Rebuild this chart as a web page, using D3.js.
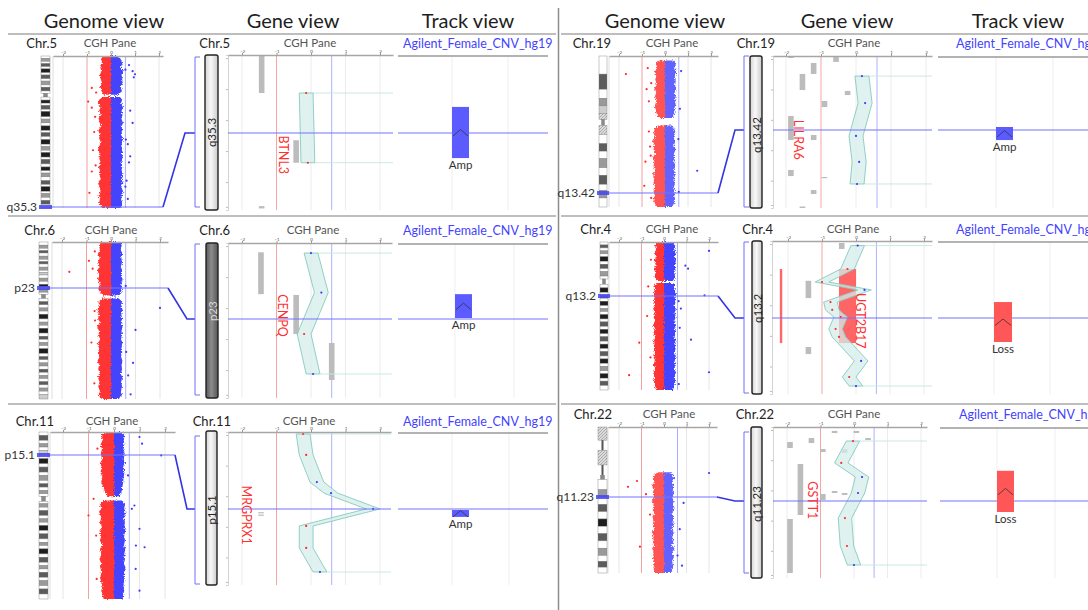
<!DOCTYPE html>
<html>
<head>
<meta charset="utf-8">
<script src="https://cdn.jsdelivr.net/npm/d3@7"></script>
<style>
  body { margin: 0; background: #fff; }
  svg { display: block; font-family: Lato, "Open Sans", sans-serif; }
</style>
</head>
<body>
<svg id="chart" width="1088" height="610"></svg>
<script>
// ---- data ----
const viewTitles = ["Genome view", "Gene view", "Track view"];
const chromosomes = ["Chr.5", "Chr.6", "Chr.11", "Chr.19", "Chr.4", "Chr.22"];
const bandLabels = ["q35.3", "p23", "p15.1", "q13.42", "q13.2", "q11.23"];
const geneNames = ["BTNL3", "CENPQ", "MRGPRX1", "LILRA6", "UGT2B17", "GSTT1"];
const trackName = "Agilent_Female_CNV_hg19";
const callTypes = ["Amp", "Amp", "Amp", "Amp", "Loss", "Loss"];
const cghTicks = [-2, -1, 0, 1, 2];
const lossLine = -1;
const gainLine = 0.6;

// position of the selected band along the chromosome (0 = top, 100 = bottom)
const bandPos = [99.5, 29, 14, 91, 36.5, 48];
// position of the gene inside the gene view (0..100)
const genePos = [50, 49, 50, 49, 50, 49];
// track call extents inside the gene view (0..100)
const trackCalls = [[33.5, 66.5], [33, 48.4], [51, 55.5], [46.7, 55.3], [39.9, 66], [29, 56.3]];

// ideogram bands: [end, stain]  stain 0 gneg .. 4 gpos100, 5 acen, 6 gvar, 7 stalk
const chr5Bands = [[1.5,0],[3.5,2],[5,0],[7,3],[8.5,0],[11,4],[12.5,0],[15,3],[16.5,0],[19,2],[20.5,0],[23,3],[24.5,0],[27,5],[29,0],[31,4],[32.5,0],[35,3],[36.5,0],[40,4],[41.5,0],[44,2],[46,0],[49,4],[50.5,0],[53,3],[55,0],[58,4],[59.5,0],[62,2],[63.5,0],[66.5,4],[68,0],[71,3],[73,0],[75.5,4],[77,0],[79.5,2],[82,0],[84.5,3],[86,0],[89,4],[90.5,0],[93,2],[95,0],[97.5,3],[100,0]];
const chr6Bands = [[2,0],[4,2],[5.5,0],[7,3],[9,0],[11,2],[12.5,0],[14,3],[16,0],[18,2],[19.5,0],[21,1],[23,0],[25,2],[27,0],[28.5,4],[30,0],[32,2],[33.5,0],[36,5],[38,0],[40,3],[42,0],[44,2],[46,0],[49,4],[51,0],[53,2],[55,0],[58,4],[60,0],[62,3],[64,0],[66,2],[68,0],[71,4],[73,0],[75,3],[77,0],[79,2],[81,0],[83,3],[85,0],[87,2],[89,0],[91,3],[93,0],[95,2],[97,0],[100,1]];
const chr11Bands = [[2,0],[5,3],[7,0],[9,2],[11,0],[13,1],[16,0],[19,4],[21,0],[24,3],[26,0],[29,2],[31,0],[33,3],[35,0],[37,2],[38.5,0],[41.5,5],[43,0],[45,2],[47,0],[50,3],[52,0],[54,2],[56,0],[59,4],[61,0],[64,3],[66,0],[68,2],[70,0],[73,4],[75,0],[78,3],[80,0],[82,2],[84,0],[87,3],[89,0],[92,2],[94,0],[97,3],[100,0]];
const chr19Bands = [[12,0],[22,3],[28,0],[33,2],[38,1],[42,6],[46,5],[52,6],[58,0],[63,3],[68,0],[74,2],[79,0],[85,3],[89,0],[94,2],[100,0]];
const chr4Bands = [[2,0],[4,3],[6,0],[8,2],[10,0],[13,4],[15,0],[18,3],[20,0],[23,2],[25,0],[28.5,5],[31,0],[34,4],[36,0],[38,3],[40,0],[43,4],[45,0],[47,2],[49,0],[52,4],[54,0],[57,3],[59,0],[62,4],[64,0],[67,3],[69,0],[72,4],[74,0],[77,3],[79,0],[82,4],[84,0],[87,2],[89,0],[92,4],[94,0],[97,3],[100,0]];
const chr22Bands = [[9,6],[16,7],[26,6],[33,7],[36,5],[43,0],[48,2],[53,0],[58,3],[63,0],[68,4],[73,0],[78,3],[83,0],[88,2],[92,0],[96,3],[100,0]];

// genome CGH cloud envelope: segments of [pos, low log2 ratio, high log2 ratio]
const chr5Cloud = [
  [[0,-0.3,0.32],[2,-0.42,0.4],[5,-0.38,0.47],[7,-0.45,0.42],[10,-0.4,0.5],[13,-0.48,0.44],[15,-0.43,0.46],[18,-0.37,0.5],[20,-0.46,0.41],[23,-0.4,0.45],[25.5,-0.3,0.32]],
  [[27,-0.35,0.38],[29,-0.5,0.46],[31,-0.55,0.42],[34,-0.44,0.5],[36,-0.5,0.44],[39,-0.42,0.48],[41,-0.52,0.43],[44,-0.46,0.5],[46,-0.4,0.45],[49,-0.53,0.47],[52,-0.45,0.42],[54,-0.5,0.5],[57,-0.42,0.46],[59,-0.48,0.43],[62,-0.55,0.49],[65,-0.44,0.45],[67,-0.5,0.5],[70,-0.43,0.42],[73,-0.52,0.47],[75,-0.46,0.44],[78,-0.5,0.5],[81,-0.42,0.45],[83,-0.54,0.48],[86,-0.47,0.43],[89,-0.44,0.5],[92,-0.52,0.46],[94,-0.46,0.42],[97,-0.5,0.47],[99,-0.42,0.44],[100,-0.35,0.38]]
];
const chr6Cloud = [
  [[0,-0.4,0.36],[2,-0.5,0.44],[5,-0.45,0.4],[8,-0.55,0.47],[10,-0.46,0.42],[13,-0.52,0.45],[16,-0.47,0.4],[18,-0.56,0.46],[21,-0.48,0.42],[24,-0.53,0.47],[27,-0.45,0.41],[30,-0.52,0.45],[32,-0.44,0.4],[34,-0.32,0.3]],
  [[36,-0.36,0.32],[38,-0.52,0.45],[41,-0.46,0.42],[43,-0.56,0.47],[46,-0.48,0.42],[49,-0.53,0.46],[51,-0.45,0.4],[54,-0.56,0.47],[57,-0.48,0.43],[59,-0.52,0.45],[62,-0.44,0.41],[65,-0.55,0.47],[68,-0.48,0.42],[70,-0.53,0.46],[73,-0.46,0.41],[76,-0.56,0.47],[78,-0.48,0.43],[81,-0.52,0.45],[84,-0.45,0.4],[86,-0.54,0.46],[89,-0.47,0.42],[92,-0.52,0.45],[95,-0.45,0.41],[97,-0.5,0.44],[100,-0.38,0.32]]
];
const chr11Cloud = [
  [[0,-0.35,0.3],[2,-0.5,0.42],[5,-0.45,0.38],[8,-0.54,0.41],[10,-0.47,0.36],[13,-0.52,0.42],[16,-0.45,0.38],[19,-0.56,0.43],[21,-0.47,0.36],[24,-0.53,0.41],[27,-0.46,0.38],[30,-0.5,0.36],[33,-0.42,0.33],[36,-0.36,0.3],[38.5,-0.25,0.22]],
  [[41,-0.4,0.32],[43,-0.56,0.43],[46,-0.5,0.4],[48,-0.6,0.45],[51,-0.5,0.39],[54,-0.55,0.43],[57,-0.47,0.4],[59,-0.57,0.45],[62,-0.5,0.4],[65,-0.55,0.43],[68,-0.47,0.39],[70,-0.55,0.45],[73,-0.5,0.4],[76,-0.57,0.43],[79,-0.5,0.39],[81,-0.55,0.45],[84,-0.47,0.4],[87,-0.55,0.43],[90,-0.5,0.39],[92,-0.45,0.37],[95,-0.5,0.4],[98,-0.45,0.36],[100,-0.4,0.33]]
];
const chr19Cloud = [
  [[3,-0.3,0.4],[5,-0.42,0.48],[8,-0.35,0.44],[11,-0.46,0.5],[13,-0.38,0.42],[16,-0.43,0.47],[19,-0.36,0.44],[22,-0.47,0.5],[24,-0.38,0.42],[27,-0.44,0.47],[30,-0.36,0.43],[33,-0.45,0.49],[36,-0.4,0.42],[39,-0.35,0.4],[41,-0.28,0.32]],
  [[46,-0.3,0.3],[48,-0.45,0.4],[51,-0.5,0.45],[54,-0.42,0.38],[56,-0.55,0.44],[59,-0.45,0.4],[62,-0.5,0.46],[65,-0.43,0.38],[67,-0.55,0.43],[70,-0.46,0.4],[73,-0.5,0.45],[76,-0.42,0.38],[78,-0.53,0.44],[81,-0.46,0.4],[84,-0.5,0.45],[87,-0.43,0.38],[89,-0.5,0.43],[92,-0.45,0.4],[95,-0.5,0.44],[98,-0.43,0.38],[100,-0.35,0.3]]
];
const chr4Cloud = [
  [[0,-0.3,0.42],[2,-0.4,0.5],[5,-0.35,0.46],[8,-0.44,0.52],[10,-0.37,0.47],[13,-0.42,0.53],[16,-0.36,0.48],[18,-0.45,0.52],[21,-0.38,0.46],[24,-0.42,0.5],[26.3,-0.3,0.38]],
  [[27.7,-0.3,0.38],[29,-0.44,0.5],[32,-0.4,0.46],[35,-0.48,0.53],[37,-0.41,0.47],[40,-0.46,0.52],[43,-0.39,0.47],[45,-0.48,0.53],[48,-0.42,0.47],[51,-0.46,0.52],[53,-0.4,0.46],[56,-0.48,0.53],[59,-0.41,0.47],[61,-0.46,0.52],[64,-0.39,0.46],[67,-0.48,0.53],[69,-0.42,0.47],[72,-0.46,0.52],[75,-0.4,0.46],[77,-0.48,0.53],[80,-0.41,0.47],[83,-0.46,0.52],[86,-0.39,0.46],[88,-0.48,0.53],[91,-0.42,0.47],[94,-0.46,0.5],[97,-0.4,0.46],[100,-0.35,0.4]]
];
const chr22Cloud = [
  [[31,-0.28,0.3],[33,-0.45,0.4],[35,-0.5,0.46],[38,-0.42,0.35],[40,-0.55,0.44],[43,-0.46,0.38],[45,-0.5,0.46],[48,-0.43,0.36],[51,-0.55,0.44],[53,-0.46,0.38],[56,-0.5,0.47],[59,-0.43,0.34],[62,-0.53,0.42],[64,-0.46,0.36],[67,-0.5,0.45],[70,-0.43,0.35],[72,-0.55,0.46],[75,-0.46,0.37],[78,-0.5,0.44],[81,-0.43,0.35],[83,-0.53,0.46],[86,-0.46,0.38],[89,-0.5,0.44],[92,-0.44,0.36],[95,-0.5,0.42],[97,-0.45,0.38],[100,-0.4,0.33]]
];

// scattered probes outside the dense cloud: [pos, log2 ratio]
const chr5Outliers = [[6,0.75],[10,0.9],[12,1.0],[14,0.95],[9,0.6],[21,-0.8],[30,-0.95],[34,-0.8],[36,0.8],[44,0.9],[50,-0.7],[58,0.7],[62,-0.75],[66,0.8],[70,0.75],[76,-0.8],[82,0.65],[90,-0.9],[94,0.7],[24,-0.62],[40,-0.66],[55,0.62],[72,-0.64],[86,0.6]];
const chr6Outliers = [[19,-1.7],[17,-0.75],[42,2.0],[56,1.0],[77,0.9],[97,0.8],[44,-0.67],[12,-0.9],[64,-0.8],[85,0.7],[6,-0.66],[28,0.6],[50,-0.65],[70,0.62],[90,-0.68]];
const chr11Outliers = [[3,1.0],[7,1.1],[14,1.85],[40,-0.8],[50,-1.0],[58,1.0],[68,0.86],[69,1.2],[95,1.0],[82,0.85],[44,0.8],[46,0.7],[10,-0.65],[26,0.55],[62,-0.7],[88,-0.68]];
const chr19Outliers = [[12,-1.7],[8,-0.75],[22,-0.8],[30,-0.7],[50,-0.7],[60,-0.65],[70,-0.85],[86,-0.9],[76,1.4],[10,0.7],[35,0.65],[90,0.6],[18,-0.6],[55,0.58],[66,-0.62],[94,-0.6]];
const chr4Outliers = [[18,1.07],[16,0.95],[6,2.0],[36,1.8],[50,-0.75],[68,-1.1],[90,-1.55],[88,2.0],[66,1.2],[45,0.75],[58,0.7],[30,-0.7],[12,-0.58],[40,0.65],[78,-0.6],[96,0.66]];
const chr22Outliers = [[41,-1.6],[37,-1.2],[82,-1.07],[31.5,2.0],[52,0.87],[95,0.8],[46,-0.8],[70,0.7],[60,-0.62],[88,0.6]];

// gene view grey features: [log2 x, start pos, end pos]
const btnl3Bars = [[-1.43,0.6,24.5],[-0.43,55,69.5],[-1.43,97.5,99]];
const cenpqBars = [[-1.45,6,33],[-0.43,33.5,58.7],[0.6,64.5,88.4]];
const mrgprx1Bars = [[-1.45,52.4,53.1],[-1.45,54,54.7]];
const lilra6Bars = [[-1.86,0,1.3],[-1.21,4.6,11.8],[-1.53,11.8,22.4],[-0.57,0.7,3.9],[-0.24,23,25.7],[-0.9,29.6,33.6],[-1.86,39.5,55.3],[-1.21,52,55.3],[-1.86,75,79],[-0.9,79.6,80.3],[-1.21,88.2,90.8],[-1.53,99,100]];
const ugt2b17Bars = [[-0.42,1.3,5.2],[-1.4,26,37.3],[-1.4,69.3,73.9],[-0.42,46.4,54.9]];
const gstt1Bars = [[-0.58,2.6,4],[0.07,2.6,4],[0.42,7.3,8.6],[-1.91,9.9,13.9],[-1.27,7.3,10.6],[-0.93,14.6,16.6],[-0.28,14.6,17.2],[-1.6,24.5,58.3],[-0.58,42.4,43.7],[-0.28,43.7,45],[-0.93,44.4,48.3],[-1.91,60.9,96.7]];

// gene view segment profile: [pos, log2 ratio]
const btnl3Profile = [[24.5,-0.14],[69.5,-0.09]];
const cenpqProfile = [[6.5,0.0],[32,0.3],[58.7,-0.2],[84.5,0.06]];
const mrgprx1Profile = [[1.3,-0.23],[15,-0.14],[32.7,0.17],[40,0.58],[50.3,1.8],[61.4,-0.14],[75.8,-0.14],[91.5,0.26]];
const lilra6Profile = [[13.2,0.17],[31,0.26],[52.6,0.0],[69.7,0.09],[84.2,0.03]];
const ugt2b17Profile = [[3,0.05],[18.3,-0.25],[26.8,-1.0],[32,0.25],[39.9,-0.75],[45,-0.7],[49.7,-0.45],[57.5,-0.6],[62.7,-0.5],[78.4,0.15],[88.9,-0.2],[94.8,0.0]];
const gstt1Profile = [[9.3,-0.03],[23.8,-0.38],[33.1,0.24],[43.7,0.12],[60.3,-0.27],[78.8,-0.21],[91.4,0.0]];
const profileHalfWidth = 0.2;

// red deletion marks in the UGT2B17 gene view: [x0, x1, start pos, end pos]
const ugt2b17Loss = [[-2.24,-2.17,18.3,66.7],[-0.5,0,18.3,66.7]];

const bandSets = [chr5Bands, chr6Bands, chr11Bands, chr19Bands, chr4Bands, chr22Bands];
const clouds = [chr5Cloud, chr6Cloud, chr11Cloud, chr19Cloud, chr4Cloud, chr22Cloud];
const outliers = [chr5Outliers, chr6Outliers, chr11Outliers, chr19Outliers, chr4Outliers, chr22Outliers];
const geneBars = [btnl3Bars, cenpqBars, mrgprx1Bars, lilra6Bars, ugt2b17Bars, gstt1Bars];
const geneProfiles = [btnl3Profile, cenpqProfile, mrgprx1Profile, lilra6Profile, ugt2b17Profile, gstt1Profile];
const geneLoss = [[], [], [], [], ugt2b17Loss, []];

// ---- layout (pixels) ----
const titleX = [[104, 293, 468], [665, 847, 1018]];
const panelLayouts = [
  { chrX: 57, headY: 48, cghX: 110, geneChrX: 230, geneCghX: 310, trackX: 403,
    ideoX: [41, 50], ideoY: [56, 208], gAxis: [53, 163], gZero: 111, gUnit: 24,
    elbowX: 185, bracketX: 195, bracketY: [57, 207],
    barX: [205, 218], barY: [55, 210], nAxis: [228, 393], nZero: 311, nUnit: 34.5, nY: [55, 210],
    tLine: [398, 548], tGrid: [452, 508], tBoxX: [452, 469], geneLabel: [-0.81, 52], barLabel: 50, dark: false, cloud: 0.95 },
  { chrX: 55, headY: 235, cghX: 111, geneChrX: 230, geneCghX: 313, trackX: 403,
    ideoX: [39, 48], ideoY: [242, 399], gAxis: [52, 168], gZero: 111, gUnit: 24.5,
    elbowX: 187, bracketX: 195, bracketY: [244, 395],
    barX: [206, 218], barY: [243, 398], nAxis: [228, 392], nZero: 311, nUnit: 34.5, nY: [243, 398],
    tLine: [398, 548], tGrid: [455, 514], tBoxX: [455, 472], geneLabel: [-0.84, 33], barLabel: 44, dark: true, cloud: 0.95 },
  { chrX: 54, headY: 426, cghX: 112, geneChrX: 231, geneCghX: 309, trackX: 403,
    ideoX: [39, 48], ideoY: [432, 599], gAxis: [50, 175], gZero: 114, gUnit: 25.5,
    elbowX: 187, bracketX: 195, bracketY: [436, 584],
    barX: [206, 217], barY: [431, 585], nAxis: [228, 391], nZero: 311, nUnit: 34.5, nY: [432, 585],
    tLine: [398, 548], tGrid: [452, 509], tBoxX: [452, 469], geneLabel: [-1.88, 35], barLabel: 51, dark: false, cloud: 0.95 },
  { chrX: 611, headY: 48, cghX: 672, geneChrX: 775, geneCghX: 854, trackX: 956,
    ideoX: [599, 607], ideoY: [56, 207], gAxis: [609, 718], gZero: 665, gUnit: 23,
    elbowX: 735, bracketX: 744, bracketY: [56, 207],
    barX: [750, 762], barY: [56, 208], nAxis: [773, 932], nZero: 856, nUnit: 35, nY: [56, 208],
    tLine: [938, 1088], tGrid: [996, 1053], tBoxX: [996, 1013], geneLabel: [-1.64, 42], barLabel: 52, dark: false, cloud: 0.8 },
  { chrX: 611, headY: 234, cghX: 672, geneChrX: 773, geneCghX: 853, trackX: 956,
    ideoX: [600, 608], ideoY: [242, 390], gAxis: [609, 718], gZero: 664, gUnit: 22.5,
    elbowX: 735, bracketX: 744, bracketY: [242, 393],
    barX: [752, 762], barY: [241, 394], nAxis: [772, 932], nZero: 856, nUnit: 34, nY: [241, 394],
    tLine: [938, 1088], tGrid: [994, 1050], tBoxX: [994, 1012], geneLabel: [0.12, 34], barLabel: 44, dark: false, cloud: 0.95 },
  { chrX: 612, headY: 419, cghX: 669, geneChrX: 774, geneCghX: 854, trackX: 959,
    ideoX: [598, 607], ideoY: [427, 573], gAxis: [608, 717], gZero: 664, gUnit: 22.5,
    elbowX: 735, bracketX: 744, bracketY: [432, 573],
    barX: [751, 762], barY: [427, 578], nAxis: [773, 927], nZero: 854, nUnit: 33.5, nY: [427, 578],
    tLine: [940, 1088], tGrid: [997, 1055], tBoxX: [997, 1014], geneLabel: [-1.25, 36], barLabel: 51, dark: false, cloud: 0.8 }
];

const stainFill = ["#ffffff", "#cdcdcd", "#9a9a9a", "#5c5c5c", "#1e1e1e", "#8a8a8a", "url(#hatch)", "#555"];
const callColor = { Amp: "#5b5bff", Loss: "#ff5757" };
const redDot = "#ff2a2a";
const blueDot = "#3a3aff";
const focusBlue = "#7373ff";

const svg = d3.select("#chart");
const defs = svg.append("defs");

const hatch = defs.append("pattern").attr("id", "hatch")
  .attr("width", 3).attr("height", 3).attr("patternUnits", "userSpaceOnUse");
hatch.append("rect").attr("width", 3).attr("height", 3).attr("fill", "#dcdcdc");
hatch.append("path").attr("d", "M0,3L3,0").attr("stroke", "#8a8a8a").attr("stroke-width", 0.6);

// roughen the cloud edges so it reads as a mass of probes
const speckle = defs.append("filter").attr("id", "speckle")
  .attr("x", "-30%").attr("y", "-2%").attr("width", "160%").attr("height", "104%");
speckle.append("feTurbulence").attr("type", "fractalNoise").attr("baseFrequency", 0.9)
  .attr("numOctaves", 2).attr("seed", 7).attr("result", "noise");
speckle.append("feDisplacementMap").attr("in", "SourceGraphic").attr("in2", "noise")
  .attr("scale", 4).attr("xChannelSelector", "R").attr("yChannelSelector", "G");

function addGradient(id, stops) {
  const gr = defs.append("linearGradient").attr("id", id).attr("x1", "0").attr("x2", "1");
  stops.forEach(([o, c]) => gr.append("stop").attr("offset", o).attr("stop-color", c));
}
addGradient("barLight", [["0%", "#d4d4d4"], ["45%", "#f8f8f8"], ["100%", "#cacaca"]]);
addGradient("barDark", [["0%", "#5a5a5a"], ["45%", "#8c8c8c"], ["100%", "#555555"]]);

// ---- frame ----
const frame = svg.append("g").attr("stroke", "#a9a9a9").attr("stroke-width", 1.5);
[[8, 556], [561, 1088]].forEach(([a, b]) => {
  [34, 216, 404].forEach((y) => {
    frame.append("line").attr("x1", a).attr("x2", b).attr("y1", y).attr("y2", y);
  });
});
frame.append("line").attr("x1", 558.5).attr("x2", 558.5).attr("y1", 8).attr("y2", 610).attr("stroke", "#8c8c8c");

titleX.forEach((xs) => {
  xs.forEach((x, k) => {
    svg.append("text").attr("x", x).attr("y", 28).attr("text-anchor", "middle")
      .attr("font-size", 20).attr("fill", "#1e1e1e").text(viewTitles[k]);
  });
});

function styleAxis(ax) {
  ax.select(".domain").attr("stroke", "#a6a6a6").attr("stroke-width", 1.6);
  ax.selectAll(".tick line").attr("stroke", "#999");
  ax.selectAll(".tick text").attr("font-size", 4.5).attr("fill", "#555").attr("font-family", "Lato, sans-serif");
}

function vline(g, x, y0, y1, color, w) {
  g.append("line").attr("x1", x).attr("x2", x).attr("y1", y0).attr("y2", y1)
    .attr("stroke", color).attr("stroke-width", w || 1);
}

function hline(g, x0, x1, y, color, w) {
  g.append("line").attr("x1", x0).attr("x2", x1).attr("y1", y).attr("y2", y)
    .attr("stroke", color).attr("stroke-width", w || 1);
}

function drawPanel(i) {
  const L = panelLayouts[i];
  const g = svg.append("g");

  // scales
  const gx = d3.scaleLinear()
    .domain([(L.gAxis[0] - L.gZero) / L.gUnit, (L.gAxis[1] - L.gZero) / L.gUnit]).range(L.gAxis);
  const gy = d3.scaleLinear().domain([0, 100]).range(L.ideoY);
  const nx = d3.scaleLinear()
    .domain([(L.nAxis[0] - L.nZero) / L.nUnit, (L.nAxis[1] - L.nZero) / L.nUnit]).range(L.nAxis);
  const ny = d3.scaleLinear().domain([0, 100]).range(L.nY);

  // the focus lines sit on a pixel boundary so they render as a soft 2px blue line
  const bandY = Math.round(gy(bandPos[i]));
  const geneY = Math.round(ny(genePos[i]));

  // labels
  g.append("text").attr("x", L.chrX).attr("y", L.headY).attr("text-anchor", "end")
    .attr("font-size", 13).attr("fill", "#222").text(chromosomes[i]);
  g.append("text").attr("x", L.cghX).attr("y", L.headY - 1).attr("text-anchor", "middle")
    .attr("font-size", 11.5).attr("fill", "#555").text("CGH Pane");
  g.append("text").attr("x", L.geneChrX).attr("y", L.headY).attr("text-anchor", "end")
    .attr("font-size", 13).attr("fill", "#222").text(chromosomes[i]);
  g.append("text").attr("x", L.geneCghX).attr("y", L.headY - 1).attr("text-anchor", "middle")
    .attr("font-size", 11.5).attr("fill", "#555").text("CGH Pane");
  g.append("text").attr("x", L.trackX).attr("y", L.headY).attr("text-anchor", "start")
    .attr("font-size", 12.5).attr("fill", "#4343ff").text(trackName);

  // ---- genome view ----
  const gTop = L.ideoY[0], gBot = L.ideoY[1];
  vline(g, L.gAxis[0], gTop, gBot, "#dedede");
  [-2, 1, 2].forEach((v) => vline(g, gx(v), gTop, gBot, "#e6e6e6"));
  vline(g, gx(lossLine), gTop, gBot, "#f2a0a0");
  vline(g, gx(gainLine), gTop, gBot, "#a8acff");

  const redArea = d3.area().y((d) => gy(d[0])).x0((d) => gx(d[1])).x1(gx(0));
  const blueArea = d3.area().y((d) => gy(d[0])).x0(gx(0)).x1((d) => gx(d[2]));
  const cloudG = g.append("g").attr("filter", "url(#speckle)").attr("opacity", L.cloud);
  clouds[i].forEach((seg) => {
    cloudG.append("path").attr("d", redArea(seg)).attr("fill", redDot);
    cloudG.append("path").attr("d", blueArea(seg)).attr("fill", blueDot);
  });
  g.selectAll(null).data(outliers[i]).join("circle")
    .attr("cx", (d) => gx(d[1])).attr("cy", (d) => gy(d[0])).attr("r", 1.1)
    .attr("fill", (d) => (d[1] < 0 ? redDot : blueDot));

  const gAx = g.append("g").attr("transform", `translate(0,${gTop})`)
    .call(d3.axisTop(gx).tickValues(cghTicks).tickSize(2).tickSizeOuter(0).tickPadding(0.5).tickFormat(d3.format("d")));
  styleAxis(gAx);

  // ideogram
  const bands = bandSets[i].map((b, k) => [k ? bandSets[i][k - 1][0] : 0, b[0], b[1]]);
  const ix0 = L.ideoX[0], ix1 = L.ideoX[1], iw = ix1 - ix0;
  g.selectAll(null).data(bands).join("rect")
    .attr("x", (d) => (d[2] === 5 ? ix0 + 2.5 : d[2] === 7 ? ix0 + iw / 2 - 1 : ix0))
    .attr("width", (d) => (d[2] === 5 ? iw - 5 : d[2] === 7 ? 2 : iw))
    .attr("y", (d) => gy(d[0]))
    .attr("height", (d) => gy(d[1]) - gy(d[0]))
    .attr("fill", (d) => stainFill[d[2]])
    .attr("stroke", (d) => (d[2] === 7 ? "none" : "#7a7a7a"))
    .attr("stroke-width", 0.4);

  // highlighted band and link to gene view
  hline(g, ix0, L.gAxis[1], bandY, focusBlue, 1.2);
  g.append("rect").attr("x", ix0 - 2).attr("width", iw + 4).attr("y", bandY - 2).attr("height", 4)
    .attr("fill", "#4848f0").attr("opacity", 0.85);
  g.append("text").attr("x", ix0 - 4).attr("y", bandY + 4).attr("text-anchor", "end")
    .attr("font-size", 12).attr("fill", "#333").text(bandLabels[i]);
  g.append("path")
    .attr("d", d3.line()([[L.gAxis[1], bandY], [L.elbowX, geneY], [L.bracketX, geneY]]))
    .attr("fill", "none").attr("stroke", "#3434e6").attr("stroke-width", 1.6);
  g.append("path")
    .attr("d", d3.line()([[L.bracketX + 5, L.bracketY[0]], [L.bracketX, L.bracketY[0]],
      [L.bracketX, L.bracketY[1]], [L.bracketX + 5, L.bracketY[1]]]))
    .attr("fill", "none").attr("stroke", "#7070ff").attr("stroke-width", 1);

  // ---- gene view ----
  g.append("rect").attr("x", L.barX[0]).attr("y", L.barY[0])
    .attr("width", L.barX[1] - L.barX[0]).attr("height", L.barY[1] - L.barY[0])
    .attr("rx", 2).attr("fill", L.dark ? "url(#barDark)" : "url(#barLight)")
    .attr("stroke", "#222").attr("stroke-width", 1.4);
  g.append("text")
    .attr("transform", `translate(${(L.barX[0] + L.barX[1]) / 2},${ny(L.barLabel)}) rotate(-90)`)
    .attr("text-anchor", "middle").attr("dominant-baseline", "central")
    .attr("font-size", 11.5).attr("fill", L.dark ? "#d8d8d8" : "#222").text(bandLabels[i]);

  const nTop = L.nY[0], nBot = L.nY[1];
  [-2, 0, 1, 2].forEach((v) => vline(g, nx(v), nTop, nBot, "#ececec"));
  vline(g, nx(lossLine), nTop, nBot, "#f5a5a5");
  vline(g, nx(gainLine), nTop, nBot, "#aeb2ff");
  const leftAx = g.append("g").attr("transform", `translate(${L.nAxis[0]},0)`)
    .call(d3.axisLeft(ny).tickValues([2, 22, 42, 62, 82, 98]).tickSize(2).tickFormat(""));
  leftAx.select(".domain").attr("stroke", "#d4d4d4");
  leftAx.selectAll(".tick line").attr("stroke", "#bbb");

  g.selectAll(null).data(geneBars[i]).join("rect")
    .attr("x", (d) => nx(d[0]) - 2.8).attr("width", 5.6)
    .attr("y", (d) => ny(d[1])).attr("height", (d) => Math.max(ny(d[2]) - ny(d[1]), 1.2))
    .attr("fill", "#bcbcbc");

  g.selectAll(null).data(geneLoss[i]).join("rect")
    .attr("x", (d) => nx(d[0])).attr("width", (d) => nx(d[1]) - nx(d[0]))
    .attr("y", (d) => ny(d[2])).attr("height", (d) => ny(d[3]) - ny(d[2]))
    .attr("fill", "#ff4a4a").attr("opacity", 0.85);

  const prof = geneProfiles[i];
  const hw = profileHalfWidth;
  const first = prof[0], last = prof[prof.length - 1];
  [first, last].forEach((d) => hline(g, nx(d[1] + hw), L.nAxis[1], ny(d[0]), "#c4e6e1", 0.9));
  g.append("path")
    .attr("d", d3.area().y((d) => ny(d[0])).x0((d) => nx(d[1] - hw)).x1((d) => nx(d[1] + hw))(prof))
    .attr("fill", "#d6eeea").attr("fill-opacity", 0.75)
    .attr("stroke", "#86cabf").attr("stroke-width", 0.9);
  g.selectAll(null).data(prof).join("circle")
    .attr("cx", (d) => nx(d[1])).attr("cy", (d) => ny(d[0])).attr("r", 1.1)
    .attr("fill", (d) => (d[1] < 0 ? redDot : blueDot));

  hline(g, L.nAxis[0], L.nAxis[1], geneY, focusBlue, 1.2);

  const nAx = g.append("g").attr("transform", `translate(0,${nTop})`)
    .call(d3.axisTop(nx).tickValues(cghTicks).tickSize(2).tickSizeOuter(0).tickPadding(0.5).tickFormat(d3.format("d")));
  styleAxis(nAx);

  g.append("text")
    .attr("transform", `translate(${nx(L.geneLabel[0])},${ny(L.geneLabel[1])}) rotate(90)`)
    .attr("dominant-baseline", "central").attr("font-size", 12.5).attr("fill", "#ff3030")
    .text(geneNames[i]);

  // ---- track view ----
  L.tGrid.forEach((x) => vline(g, x, nTop, nBot, "#efefef"));
  hline(g, L.tLine[0], L.tLine[1], nTop + 1, "#9a9a9a", 1.3);
  hline(g, L.tLine[0], L.tLine[1], geneY, focusBlue, 1.2);

  const call = trackCalls[i];
  const by0 = ny(call[0]), by1 = ny(call[1]);
  const bx0 = L.tBoxX[0], bx1 = L.tBoxX[1];
  g.append("rect").attr("x", bx0).attr("y", by0).attr("width", bx1 - bx0).attr("height", by1 - by0)
    .attr("fill", callColor[callTypes[i]]);
  const cy = (by0 + by1) / 2;
  g.append("path")
    .attr("d", d3.line()([[bx0 + 1, cy + 3.5], [(bx0 + bx1) / 2, cy - 3], [bx1 - 1, cy + 3.5]]))
    .attr("fill", "none").attr("stroke", "#333").attr("stroke-width", 0.8);
  g.append("text").attr("x", (bx0 + bx1) / 2).attr("y", by1 + 11).attr("text-anchor", "middle")
    .attr("font-size", 11.5).attr("fill", "#333").text(callTypes[i]);
}

panelLayouts.forEach((_, i) => drawPanel(i));
</script>
</body>
</html>
